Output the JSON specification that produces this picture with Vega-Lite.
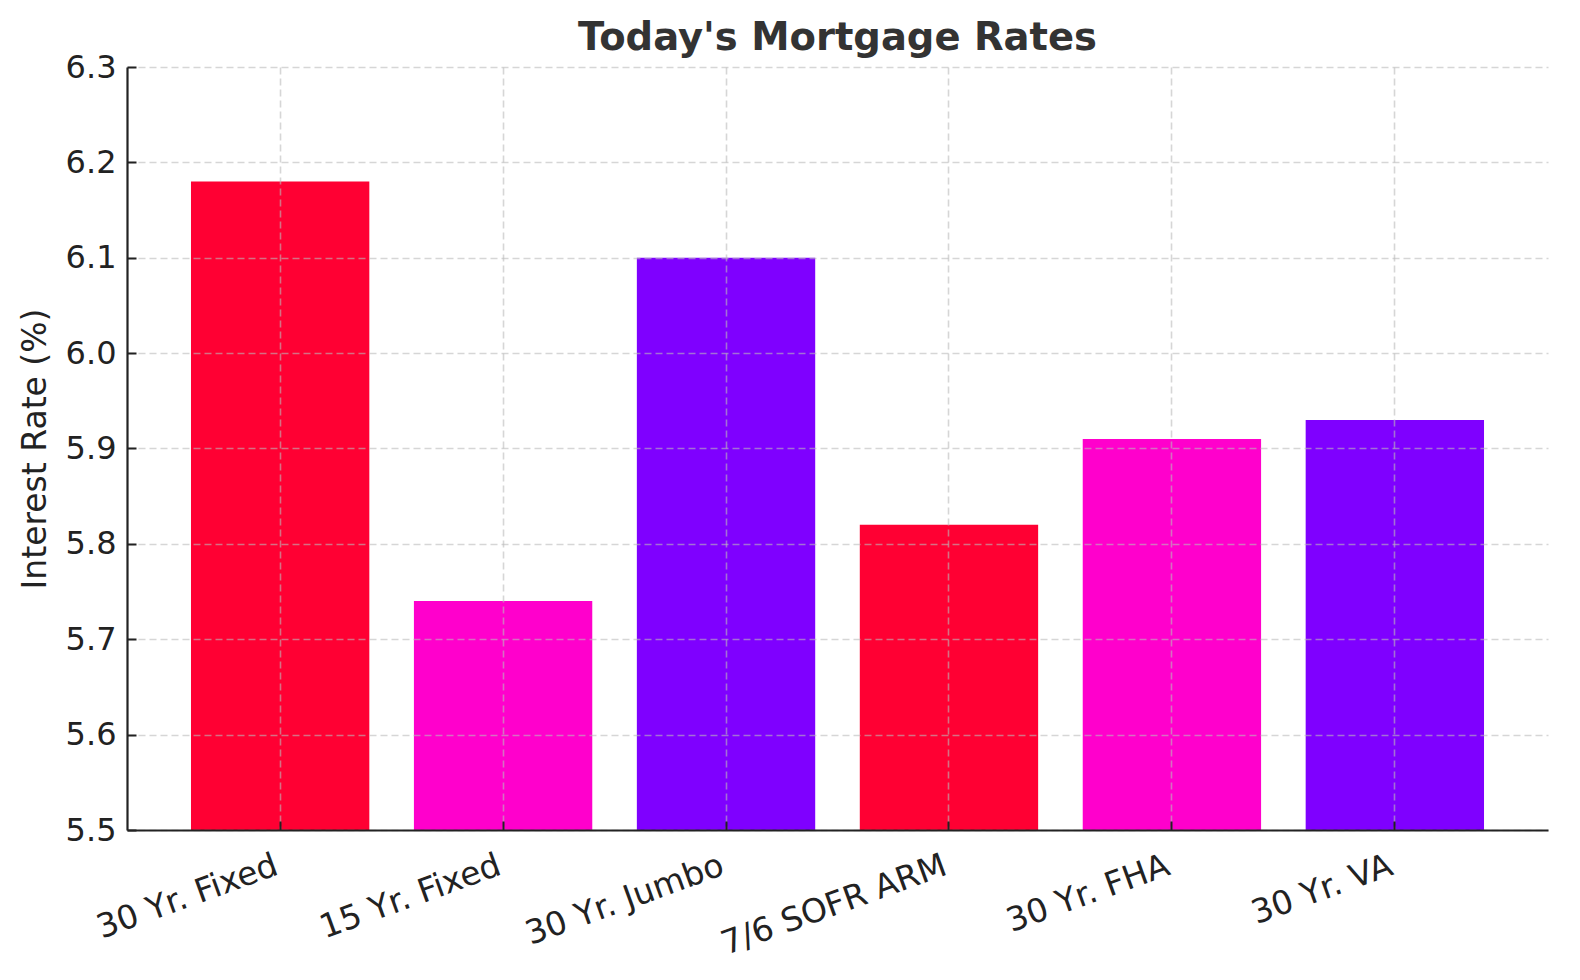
{
  "$schema": "https://vega.github.io/schema/vega-lite/v6.json",
  "autosize": "none",
  "width": 1421,
  "height": 763,
  "padding": {"left": 127, "top": 67, "right": 32, "bottom": 150},
  "background": "white",
  "title": {
    "text": "Today's Mortgage Rates",
    "font": "DejaVu Sans",
    "fontSize": 38.5,
    "fontWeight": "bold",
    "color": "#333333",
    "anchor": "middle",
    "frame": "group",
    "offset": 11,
    "dy": 18
  },
  "config": {
    "view": {"stroke": null},
    "axis": {"labelFont": "DejaVu Sans", "titleFont": "DejaVu Sans"}
  },
  "data": {
    "values": [
      {"type": "30 Yr. Fixed", "rate": 6.18},
      {"type": "15 Yr. Fixed", "rate": 5.74},
      {"type": "30 Yr. Jumbo", "rate": 6.10},
      {"type": "7/6 SOFR ARM", "rate": 5.82},
      {"type": "30 Yr. FHA", "rate": 5.91},
      {"type": "30 Yr. VA", "rate": 5.93}
    ]
  },
  "mark": {"type": "bar"},
  "encoding": {
    "x": {
      "field": "type",
      "type": "nominal",
      "sort": null,
      "scale": {"paddingInner": 0.2, "paddingOuter": 0.287},
      "axis": {
        "title": null,
        "zindex": 1,
        "bandPosition": 0.5,
        "labelAngle": -20,
        "labelAlign": "right",
        "labelBaseline": "top",
        "labelFontSize": 33,
        "labelColor": "#222222",
        "labelPadding": 28,
        "labelOffset": -9,
        "labelLimit": 500,
        "labelOverlap": false,
        "tickSize": -9,
        "tickWidth": 2,
        "tickColor": "#222222",
        "domainColor": "#222222",
        "domainWidth": 2.2,
        "grid": true,
        "gridColor": "#bbbbbb",
        "gridOpacity": 0.6,
        "gridDash": [7, 4],
        "gridWidth": 1.6
      }
    },
    "y": {
      "field": "rate",
      "type": "quantitative",
      "scale": {"domain": [5.5, 6.3], "zero": false, "nice": false},
      "axis": {
        "title": "Interest Rate (%)",
        "titleFontSize": 33,
        "titleFontWeight": "normal",
        "titleColor": "#222222",
        "titleX": -92,
        "titleBaseline": "middle",
        "zindex": 1,
        "values": [5.5, 5.6, 5.7, 5.8, 5.9, 6.0, 6.1, 6.2, 6.3],
        "format": ".1f",
        "labelFontSize": 32,
        "labelColor": "#222222",
        "labelPadding": 20,
        "tickSize": -9,
        "tickWidth": 2,
        "tickColor": "#222222",
        "domainColor": "#222222",
        "domainWidth": 2.2,
        "grid": true,
        "gridColor": "#bbbbbb",
        "gridOpacity": 0.6,
        "gridDash": [7, 4],
        "gridWidth": 1.6
      }
    },
    "y2": {"datum": 5.5},
    "color": {
      "field": "type",
      "type": "nominal",
      "legend": null,
      "scale": {
        "domain": ["30 Yr. Fixed", "15 Yr. Fixed", "30 Yr. Jumbo", "7/6 SOFR ARM", "30 Yr. FHA", "30 Yr. VA"],
        "range": ["#FF0033", "#FF00CC", "#7F00FF", "#FF0033", "#FF00CC", "#7F00FF"]
      }
    }
  }
}
